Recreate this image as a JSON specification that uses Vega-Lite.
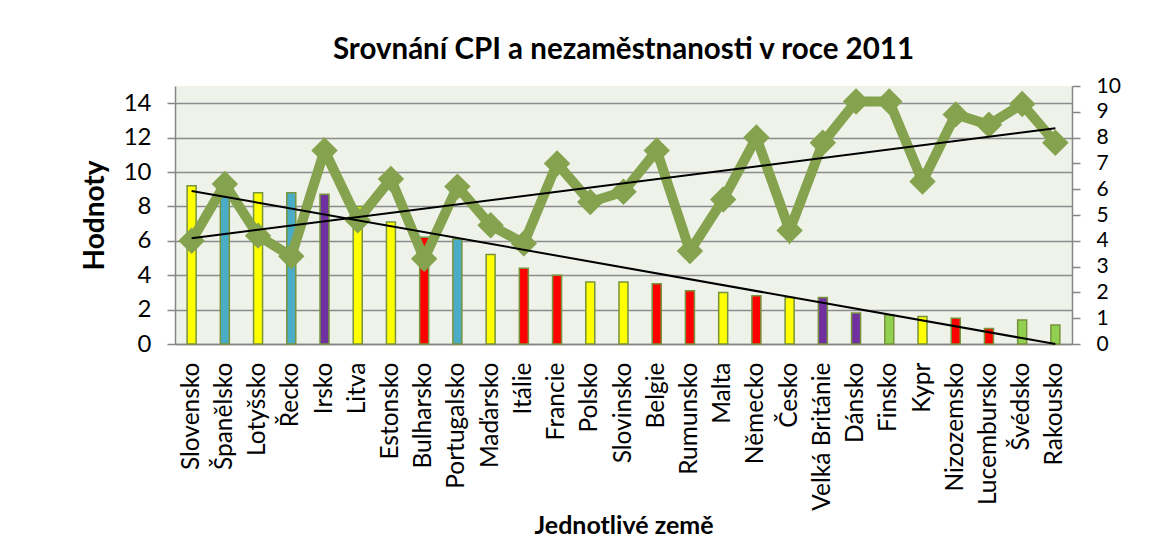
{
  "$schema": "https://vega.github.io/schema/vega-lite/v6.json",
  "width": 897,
  "height": 258,
  "padding": {"left": 81, "top": 34, "right": 5, "bottom": 0},
  "background": "white",
  "config": {
    "font": "Lato",
    "view": {"fill": "#EEF2E8", "stroke": null},
    "axis": {"labelColor": "black", "titleColor": "black"}
  },
  "title": {
    "text": "Srovnání CPI a nezaměstnanosti v roce 2011",
    "fontSize": 29.5,
    "fontWeight": "bold",
    "color": "black",
    "offset": 10,
    "anchor": "middle"
  },
  "data": {
    "values": [
      {"zeme": "Slovensko", "hodnota": 9.2, "cpi": 4.0, "skupina": "A", "trend_h": 8.9, "trend_cpi": 4.1},
      {"zeme": "Španělsko", "hodnota": 8.7, "cpi": 6.2, "skupina": "B"},
      {"zeme": "Lotyšsko", "hodnota": 8.8, "cpi": 4.2, "skupina": "A"},
      {"zeme": "Řecko", "hodnota": 8.8, "cpi": 3.4, "skupina": "B"},
      {"zeme": "Irsko", "hodnota": 8.7, "cpi": 7.5, "skupina": "C"},
      {"zeme": "Litva", "hodnota": 8.0, "cpi": 4.8, "skupina": "A"},
      {"zeme": "Estonsko", "hodnota": 7.1, "cpi": 6.4, "skupina": "A"},
      {"zeme": "Bulharsko", "hodnota": 6.2, "cpi": 3.3, "skupina": "D"},
      {"zeme": "Portugalsko", "hodnota": 6.1, "cpi": 6.1, "skupina": "B"},
      {"zeme": "Maďarsko", "hodnota": 5.2, "cpi": 4.6, "skupina": "A"},
      {"zeme": "Itálie", "hodnota": 4.4, "cpi": 3.9, "skupina": "D"},
      {"zeme": "Francie", "hodnota": 4.0, "cpi": 7.0, "skupina": "D"},
      {"zeme": "Polsko", "hodnota": 3.6, "cpi": 5.5, "skupina": "A"},
      {"zeme": "Slovinsko", "hodnota": 3.6, "cpi": 5.9, "skupina": "A"},
      {"zeme": "Belgie", "hodnota": 3.5, "cpi": 7.5, "skupina": "D"},
      {"zeme": "Rumunsko", "hodnota": 3.1, "cpi": 3.6, "skupina": "D"},
      {"zeme": "Malta", "hodnota": 3.0, "cpi": 5.6, "skupina": "A"},
      {"zeme": "Německo", "hodnota": 2.8, "cpi": 8.0, "skupina": "D"},
      {"zeme": "Česko", "hodnota": 2.7, "cpi": 4.4, "skupina": "A"},
      {"zeme": "Velká Británie", "hodnota": 2.7, "cpi": 7.8, "skupina": "C"},
      {"zeme": "Dánsko", "hodnota": 1.8, "cpi": 9.4, "skupina": "C"},
      {"zeme": "Finsko", "hodnota": 1.7, "cpi": 9.4, "skupina": "E"},
      {"zeme": "Kypr", "hodnota": 1.6, "cpi": 6.3, "skupina": "A"},
      {"zeme": "Nizozemsko", "hodnota": 1.5, "cpi": 8.9, "skupina": "D"},
      {"zeme": "Lucembursko", "hodnota": 0.9, "cpi": 8.5, "skupina": "D"},
      {"zeme": "Švédsko", "hodnota": 1.4, "cpi": 9.3, "skupina": "E"},
      {"zeme": "Rakousko", "hodnota": 1.1, "cpi": 7.8, "skupina": "E", "trend_h": 0.0, "trend_cpi": 8.36}
    ]
  },
  "encoding": {
    "x": {
      "field": "zeme",
      "type": "nominal",
      "sort": null,
      "scale": {"paddingInner": 0, "paddingOuter": 0},
      "title": "Jednotlivé země",
      "axis": {
        "labelAngle": -90,
        "labelFontSize": 24.5,
        "labelPadding": 18,
        "ticks": false,
        "domainColor": "#868686",
        "domainWidth": 1.5,
        "titleFontSize": 25,
        "titleFontWeight": "bold",
        "titlePadding": 3
      }
    }
  },
  "layer": [
    {
      "mark": {"type": "bar", "width": 9, "stroke": "#77933C", "strokeWidth": 1.5},
      "encoding": {
        "y": {
          "field": "hodnota",
          "type": "quantitative",
          "scale": {"domain": [0, 15], "nice": false},
          "title": "Hodnoty",
          "axis": {
            "orient": "left",
            "values": [0, 2, 4, 6, 8, 10, 12, 14],
            "labelFontSize": 24,
            "labelPadding": 16,
            "tickSize": 8,
            "tickColor": "#868686",
            "tickWidth": 1.5,
            "domainColor": "#868686",
            "domainWidth": 1.5,
            "grid": true,
            "gridColor": "#8C8C8C",
            "gridWidth": 1.5,
            "titleFontSize": 28,
            "titleFontWeight": "bold",
            "titlePadding": 14
          }
        },
        "color": {
          "field": "skupina",
          "type": "nominal",
          "scale": {"domain": ["A", "B", "C", "D", "E"], "range": ["#FFFF00", "#4BACC6", "#7030A0", "#FF0000", "#92D050"]},
          "legend": null
        }
      }
    },
    {
      "mark": {"type": "line", "color": "#85A34E", "strokeWidth": 10},
      "encoding": {
        "y": {
          "field": "cpi",
          "type": "quantitative",
          "scale": {"domain": [0, 10], "nice": false},
          "axis": {
            "orient": "right",
            "title": null,
            "values": [0, 1, 2, 3, 4, 5, 6, 7, 8, 9, 10],
            "labelFontSize": 21,
            "labelPadding": 16,
            "tickSize": 8,
            "tickColor": "#868686",
            "tickWidth": 1.5,
            "domainColor": "#868686",
            "domainWidth": 1.5,
            "grid": false
          }
        }
      }
    },
    {
      "mark": {"type": "point", "shape": "diamond", "filled": true, "size": 700, "color": "#85A34E", "opacity": 1},
      "encoding": {
        "y": {"field": "cpi", "type": "quantitative", "scale": {"domain": [0, 10], "nice": false}, "axis": null}
      }
    },
    {
      "transform": [{"filter": "isValid(datum.trend_h)"}],
      "mark": {"type": "line", "color": "black", "strokeWidth": 2},
      "encoding": {
        "y": {"field": "trend_h", "type": "quantitative", "scale": {"domain": [0, 15], "nice": false}, "axis": null}
      }
    },
    {
      "transform": [{"filter": "isValid(datum.trend_cpi)"}],
      "mark": {"type": "line", "color": "black", "strokeWidth": 2},
      "encoding": {
        "y": {"field": "trend_cpi", "type": "quantitative", "scale": {"domain": [0, 10], "nice": false}, "axis": null}
      }
    }
  ],
  "resolve": {"scale": {"y": "independent"}}
}
